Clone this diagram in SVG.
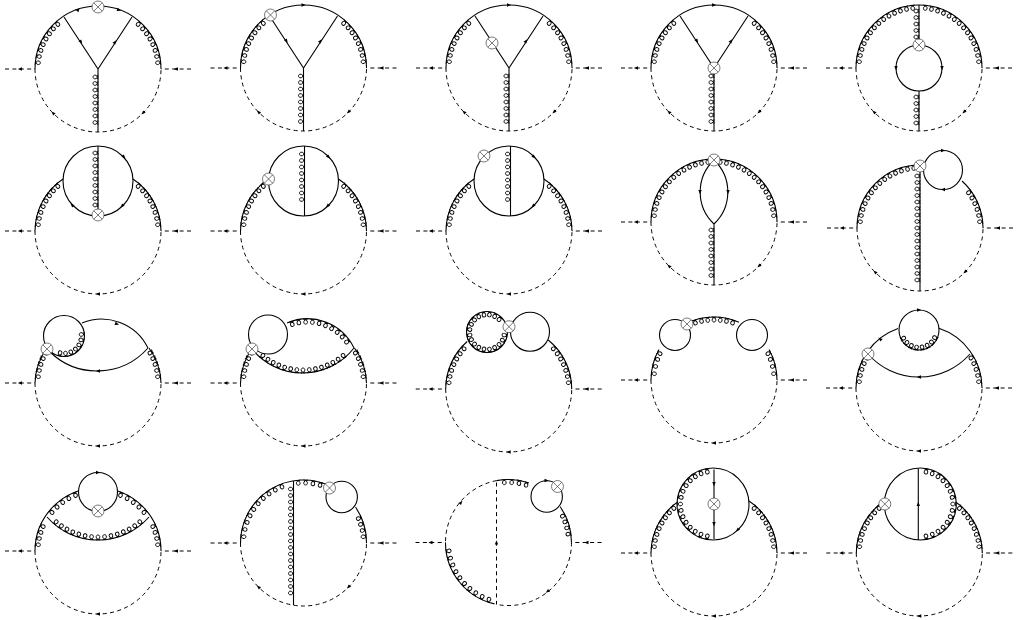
<svg xmlns="http://www.w3.org/2000/svg" width="1016" height="620" viewBox="0 0 1016 620">
<style>
.s{fill:none;stroke:#000;stroke-width:1.1}
.d{fill:none;stroke:#000;stroke-width:1;stroke-dasharray:4 3.4}
.l{fill:none;stroke:#000;stroke-width:.95}
.x{fill:#fff;stroke:#444;stroke-width:.7}
</style>
<defs>
<path id="c" class="l" d="M-2.200 0C0 0 2.200 1.400 1.800 3.500C1.400 5.500-1.400 5.500-1.800 3.500C-2.200 1.400 0 0 2.200 0"/>
<use id="c63" href="#c" y="-63"/>
<use id="c20" href="#c" y="-20.3"/>
<use id="c36" href="#c" y="-35.5"/>
<use id="c65" href="#c" y="-65.3"/>
<use id="c68" href="#c" y="-68"/>
<use id="c51" href="#c" y="-51.5"/>
<use id="v" href="#c" transform="rotate(90)"/>
<g id="V4"><use href="#v"/><use href="#v" y="6.5"/><use href="#v" y="13"/><use href="#v" y="19.5"/></g>
<g id="La"><use href="#c63" transform="rotate(-84)"/><use href="#c63" transform="rotate(-78)"/><use href="#c63" transform="rotate(-72)"/><use href="#c63" transform="rotate(-66)"/><use href="#c63" transform="rotate(-60)"/></g>
<g id="Lb"><use href="#c63" transform="rotate(-54)"/><use href="#c63" transform="rotate(-48)"/><use href="#c63" transform="rotate(-42)"/></g>
<g id="Lc"><use href="#c63" transform="rotate(-36)"/><use href="#c63" transform="rotate(-30)"/><use href="#c63" transform="rotate(-24)"/><use href="#c63" transform="rotate(-18)"/><use href="#c63" transform="rotate(-12)"/><use href="#c63" transform="rotate(-6)"/></g>
<g id="Ra"><use href="#c63" transform="rotate(84)"/><use href="#c63" transform="rotate(78)"/><use href="#c63" transform="rotate(72)"/><use href="#c63" transform="rotate(66)"/><use href="#c63" transform="rotate(60)"/></g>
<g id="Rb"><use href="#c63" transform="rotate(54)"/><use href="#c63" transform="rotate(48)"/><use href="#c63" transform="rotate(42)"/></g>
<g id="Rc"><use href="#c63" transform="rotate(36)"/><use href="#c63" transform="rotate(30)"/><use href="#c63" transform="rotate(24)"/><use href="#c63" transform="rotate(18)"/><use href="#c63" transform="rotate(12)"/><use href="#c63" transform="rotate(6)"/></g>
<path id="a" d="M2.200 0L-2-1.700V1.700Z"/>
<g id="x"><circle class="x" r="6"/><path class="x" d="M-4.2-4.2L4.2 4.2M-4.2 4.2L4.2-4.2"/></g>
<g id="ext"><path class="d" d="M-93 0H-63M93 0H63"/><use href="#a" transform="translate(-78 0) rotate(180)"/><use href="#a" transform="translate(78 0) rotate(180)"/></g>
<path id="low" class="d" d="M-63 0A63 63 0 0 0 63 0"/>
<g id="bot"><use href="#ext"/><use href="#low"/><use href="#a" transform="translate(0 63) rotate(180)"/></g>
<g id="bot2"><use href="#ext"/><use href="#low"/><use href="#a" transform="translate(-45 44) rotate(225)"/><use href="#a" transform="translate(45 44) rotate(135)"/></g>
<path id="top" class="s" d="M-63 0A63 63 0 0 1 63 0"/>
<g id="L8"><use href="#La"/><use href="#Lb"/></g>
<g id="R8"><use href="#Ra"/><use href="#Rb"/></g>
<g id="Y"><use href="#bot2"/><use href="#top"/><use href="#L8"/><use href="#R8"/><path class="s" d="M-34-52L0 0L34-52M0 0V63"/><use href="#V4" y="8"/><use href="#V4" y="34"/><use href="#a" transform="translate(17 -27) rotate(-57)"/><use href="#a" transform="translate(-17 -27) rotate(57)"/></g>
<path id="sides" class="s" d="M-63 0A63 63 0 0 1-35-52M63 0A63 63 0 0 0 35-52"/>
<g id="ring"><use href="#bot"/><use href="#sides"/><use href="#L8"/><use href="#R8"/><circle class="s" cy="-50" r="35"/></g>
</defs>

<g id="d1" transform="translate(98 69)"><use href="#Y"/><use href="#a" transform="translate(-21 -59) rotate(197)"/><use href="#a" transform="translate(21 -59) rotate(20)"/><use href="#x" y="-62"/></g>
<g id="d2" transform="translate(303.500 68)"><use href="#Y"/><use href="#a" transform="translate(0 -63)"/><use href="#x" x="-33" y="-53"/></g>
<g id="d3" transform="translate(509 68)"><use href="#Y"/><use href="#a" transform="translate(0 -63)"/><use href="#x" x="-17" y="-25"/></g>
<g id="d4" transform="translate(714 68)"><use href="#Y"/><use href="#a" transform="translate(0 -63)"/><use href="#x"/></g>
<g id="d5" transform="translate(919 68)"><use href="#bot2"/><use href="#top"/><use href="#L8"/><use href="#R8"/><use href="#Lc"/><use href="#Rc"/><path class="s" d="M0-63V-23M0 23V63"/><circle class="s" r="23"/><use href="#V4" y="-57"/><use href="#v" y="-31"/><use href="#V4" y="29"/><use href="#v" y="55"/><use href="#a" transform="translate(-23 0) rotate(90)"/><use href="#a" transform="translate(23 0) rotate(90)"/><use href="#x" y="-23"/></g>

<g id="d6" transform="translate(98 231)"><use href="#ring"/><path class="s" d="M0-85V-16"/><use href="#V4" y="-78"/><use href="#V4" y="-52"/><use href="#v" y="-26"/><use href="#a" transform="translate(26 -74) rotate(45)"/><use href="#a" transform="translate(-26 -26) rotate(225)"/><use href="#a" transform="translate(24 -25) rotate(135)"/><use href="#x" y="-16"/></g>
<g id="d7" transform="translate(303.500 231)"><use href="#ring"/><path class="s" d="M1-85V-15"/><use href="#V4" x="1" y="-77"/><use href="#V4" x="1" y="-51"/><use href="#a" transform="translate(25 -74) rotate(45)"/><use href="#a" transform="translate(24 -25) rotate(135)"/><use href="#x" x="-35" y="-52"/></g>
<g id="d8" transform="translate(509 231)"><use href="#ring"/><path class="s" d="M1.500-85V-15"/><use href="#V4" x="1.500" y="-77"/><use href="#V4" x="1.500" y="-51"/><use href="#a" transform="translate(25 -74) rotate(45)"/><use href="#a" transform="translate(24 -25) rotate(135)"/><use href="#x" x="-25" y="-75"/></g>
<g id="d9" transform="translate(714 222)"><use href="#bot2"/><use href="#top"/><use href="#L8"/><use href="#R8"/><use href="#Lc"/><use href="#Rc"/><path class="s" d="M0-62A44 44 0 0 0 0 2A44 44 0 0 0 0-62M0 2V63"/><use href="#V4" y="8"/><use href="#V4" y="34"/><use href="#a" transform="translate(14 -30) rotate(90)"/><use href="#a" transform="translate(-14 -30) rotate(90)"/><use href="#x" y="-62"/></g>
<g id="d10" transform="translate(920 228)"><use href="#bot2"/><path class="s" d="M-63 0A63 63 0 0 1 0-63M63 0A63 63 0 0 0 42-47M0-60V63"/><use href="#L8"/><use href="#Lc"/><use href="#Ra"/><use href="#c63" transform="rotate(54)"/><use href="#V4" y="-52"/><use href="#V4" y="-26"/><use href="#V4" y="0"/><use href="#V4" y="26"/><use href="#v" y="52"/><circle class="s" cx="23" cy="-58" r="19.500"/><use href="#a" transform="translate(23 -77.500)"/><use href="#a" transform="translate(23 -38.500) rotate(180)"/><use href="#x" y="-62"/></g>

<g id="d11" transform="translate(98 383)"><use href="#bot"/><path class="s" d="M-63 0A63 63 0 0 1-51-35M63 0A63 63 0 0 0 51-35M-16-60A51.500 51.500 0 0 1 50-35M-48-31A68 68 0 0 0 50-35"/><circle class="s" cx="-34" cy="-47" r="20.500"/><g transform="translate(-34 -47)"><use href="#c20" transform="rotate(85)"/><use href="#c20" transform="rotate(103)"/><use href="#c20" transform="rotate(121)"/><use href="#c20" transform="rotate(139)"/><use href="#c20" transform="rotate(157)"/><use href="#c20" transform="rotate(175)"/><use href="#c20" transform="rotate(193)"/></g><use href="#La"/><use href="#Ra"/><use href="#a" transform="translate(19 -59) rotate(20)"/><use href="#a" transform="translate(0 -12) rotate(180)"/><use href="#x" x="-51" y="-34"/></g>
<g id="d12" transform="translate(303.500 383)"><use href="#bot"/><path class="s" d="M-63 0A63 63 0 0 1-51-35M63 0A63 63 0 0 0 51-35M-16.500-60A51.500 51.500 0 0 1 50.500-35M-51.500-34A65.300 65.300 0 0 0 50.500-35"/><circle class="s" cx="-35.500" cy="-48.500" r="19.500"/><g transform="translate(3.800 -12.400)"><use href="#c51" transform="rotate(-18)"/><use href="#c51" transform="rotate(-10)"/><use href="#c51" transform="rotate(-2)"/><use href="#c51" transform="rotate(6)"/><use href="#c51" transform="rotate(14)"/><use href="#c51" transform="rotate(22)"/><use href="#c51" transform="rotate(30)"/><use href="#c51" transform="rotate(38)"/><use href="#c51" transform="rotate(46)"/><use href="#c51" transform="rotate(54)"/></g><g transform="translate(-.5 -75.300)"><use href="#c65" transform="rotate(140)"/><use href="#c65" transform="rotate(145.700)"/><use href="#c65" transform="rotate(151.400)"/><use href="#c65" transform="rotate(157.100)"/><use href="#c65" transform="rotate(162.800)"/><use href="#c65" transform="rotate(168.500)"/><use href="#c65" transform="rotate(174.200)"/><use href="#c65" transform="rotate(180)"/><use href="#c65" transform="rotate(185.700)"/><use href="#c65" transform="rotate(191.400)"/><use href="#c65" transform="rotate(197.100)"/><use href="#c65" transform="rotate(202.800)"/><use href="#c65" transform="rotate(208.500)"/><use href="#c65" transform="rotate(214.200)"/><use href="#c65" transform="rotate(220)"/></g><use href="#La"/><use href="#Ra"/><use href="#x" x="-51.500" y="-34"/></g>
<g id="d13" transform="translate(508.700 389)"><use href="#bot"/><path class="s" d="M-63 0A63 63 0 0 1-41.500-47.500M63 0A63 63 0 0 0 39.500-49"/><use href="#La"/><use href="#c63" transform="rotate(-54)"/><use href="#c63" transform="rotate(-48)"/><use href="#Ra"/><use href="#c63" transform="rotate(54)"/><use href="#c63" transform="rotate(48)"/><circle class="s" cx="21.300" cy="-57.300" r="19.500"/><g transform="translate(-21.700 -57)"><circle class="s" r="20.500"/><use href="#c20" transform="rotate(-100)"/><use href="#c20" transform="rotate(-82)"/><use href="#c20" transform="rotate(-64)"/><use href="#c20" transform="rotate(-46)"/><use href="#c20" transform="rotate(-28)"/><use href="#c20" transform="rotate(-10)"/><use href="#c20" transform="rotate(8)"/><use href="#c20" transform="rotate(26)"/><use href="#c20" transform="rotate(44)"/><use href="#c20" transform="rotate(100)"/><use href="#c20" transform="rotate(118)"/><use href="#c20" transform="rotate(136)"/><use href="#c20" transform="rotate(154)"/><use href="#c20" transform="rotate(172)"/><use href="#c20" transform="rotate(190)"/><use href="#c20" transform="rotate(208)"/><use href="#c20" transform="rotate(226)"/><use href="#c20" transform="rotate(244)"/></g><use href="#x" x=".3" y="-62.300"/></g>
<g id="d14" transform="translate(714 380)"><use href="#bot"/><path class="s" d="M-63 0A63 63 0 0 1-55-30.500M63 0A63 63 0 0 0 55-30.500M-27-57A63 63 0 0 1 25-57.800"/><circle class="s" cx="-39" cy="-45" r="15.500"/><circle class="s" cx="38" cy="-45" r="15.500"/><use href="#c63" transform="rotate(-84)"/><use href="#c63" transform="rotate(-77)"/><use href="#c63" transform="rotate(-70)"/><use href="#c63" transform="rotate(-64)"/><use href="#c63" transform="rotate(84)"/><use href="#c63" transform="rotate(77)"/><use href="#c63" transform="rotate(70)"/><use href="#c63" transform="rotate(64)"/><use href="#c63" transform="rotate(-18)"/><use href="#c63" transform="rotate(-12)"/><use href="#c63" transform="rotate(-6)"/><use href="#c63" transform="rotate(0)"/><use href="#c63" transform="rotate(6)"/><use href="#c63" transform="rotate(12)"/><use href="#c63" transform="rotate(18)"/><use href="#x" x="-27" y="-56"/></g>
<g id="d15" transform="translate(919 388)"><use href="#bot"/><path class="s" d="M-63 0A63 63 0 0 1-21-59.400M63 0A63 63 0 0 0 20-59.700M-51-34A68 68 0 0 0 51-34"/><g transform="translate(0 -58)"><circle class="s" r="20"/><use href="#a" transform="translate(0 -20)"/><use href="#c20" transform="rotate(116)"/><use href="#c20" transform="rotate(134)"/><use href="#c20" transform="rotate(152)"/><use href="#c20" transform="rotate(170)"/><use href="#c20" transform="rotate(188)"/><use href="#c20" transform="rotate(206)"/><use href="#c20" transform="rotate(224)"/><use href="#c20" transform="rotate(242)"/></g><use href="#La"/><use href="#Ra"/><use href="#a" transform="translate(-39 -49) rotate(220)"/><use href="#a" transform="translate(0 -11) rotate(180)"/><use href="#x" x="-51" y="-34"/></g>

<g id="d16" transform="translate(98 551)"><use href="#bot"/><use href="#top"/><circle class="s" cy="-59" r="19.500" style="fill:#fff"/><path class="s" d="M-51-34A68 68 0 0 0 51-34"/><use href="#c63" transform="rotate(-84)"/><use href="#c63" transform="rotate(-78)"/><use href="#c63" transform="rotate(-72)"/><use href="#c63" transform="rotate(-66)"/><use href="#c63" transform="rotate(84)"/><use href="#c63" transform="rotate(78)"/><use href="#c63" transform="rotate(72)"/><use href="#c63" transform="rotate(66)"/><use href="#c63" transform="rotate(-50)"/><use href="#c63" transform="rotate(-43)"/><use href="#c63" transform="rotate(-36)"/><use href="#c63" transform="rotate(-29)"/><use href="#c63" transform="rotate(-22)"/><use href="#c63" transform="rotate(50)"/><use href="#c63" transform="rotate(43)"/><use href="#c63" transform="rotate(36)"/><use href="#c63" transform="rotate(29)"/><use href="#c63" transform="rotate(22)"/><g transform="translate(0 -79)"><use href="#c68" transform="rotate(140)"/><use href="#c68" transform="rotate(145.700)"/><use href="#c68" transform="rotate(151.400)"/><use href="#c68" transform="rotate(157.100)"/><use href="#c68" transform="rotate(162.800)"/><use href="#c68" transform="rotate(168.500)"/><use href="#c68" transform="rotate(174.200)"/><use href="#c68" transform="rotate(180)"/><use href="#c68" transform="rotate(185.700)"/><use href="#c68" transform="rotate(191.400)"/><use href="#c68" transform="rotate(197.100)"/><use href="#c68" transform="rotate(202.800)"/><use href="#c68" transform="rotate(208.500)"/><use href="#c68" transform="rotate(214.200)"/><use href="#c68" transform="rotate(220)"/></g><use href="#a" transform="translate(0 -78.500)"/><use href="#x" y="-40"/></g>
<g id="d17" transform="translate(303.500 543)"><use href="#bot2"/><path class="s" d="M-63 0A63 63 0 0 1 26-57.400M63 0A63 63 0 0 0 52-36M-10-62V62"/><circle class="s" cx="38.200" cy="-46" r="15.700" style="fill:#fff"/><use href="#c63" transform="rotate(-84)"/><use href="#c63" transform="rotate(-77)"/><use href="#c63" transform="rotate(-70)"/><use href="#c63" transform="rotate(-63)"/><use href="#c63" transform="rotate(-56)"/><use href="#c63" transform="rotate(-49)"/><use href="#c63" transform="rotate(-42)"/><use href="#c63" transform="rotate(-35)"/><use href="#c63" transform="rotate(-28)"/><use href="#c63" transform="rotate(-21)"/><use href="#c63" transform="rotate(-5)"/><use href="#c63" transform="rotate(2)"/><use href="#c63" transform="rotate(9)"/><use href="#c63" transform="rotate(16)"/><use href="#c63" transform="rotate(84)"/><use href="#c63" transform="rotate(78)"/><use href="#c63" transform="rotate(72)"/><use href="#c63" transform="rotate(66)"/><g transform="translate(-10 0)"><use href="#V4" y="-54"/><use href="#V4" y="-28"/><use href="#V4" y="-2"/><use href="#V4" y="24"/><use href="#v" y="50"/></g><use href="#x" x="26" y="-55"/></g>
<g id="d18" transform="translate(508.500 542.500)"><use href="#ext"/><path class="d" d="M-12-61.900A63 63 0 0 0-63 0M63 0A63 63 0 0 1-12 61.900M-12-60V62"/><path class="s" d="M-12-61.900A63 63 0 0 1 20-59.700M63 0A63 63 0 0 0 51.500-36M-63 0A63 63 0 0 0-14 61.400"/><circle class="s" cx="38.200" cy="-46" r="15.700" style="fill:#fff"/><use href="#c63" transform="rotate(-4)"/><use href="#c63" transform="rotate(3)"/><use href="#c63" transform="rotate(10)"/><use href="#c63" transform="rotate(17)"/><use href="#c63" transform="rotate(64)"/><use href="#c63" transform="rotate(70)"/><use href="#c63" transform="rotate(76)"/><use href="#c63" transform="rotate(82)"/><use href="#c63" transform="rotate(262)"/><use href="#c63" transform="rotate(255)"/><use href="#c63" transform="rotate(248)"/><use href="#c63" transform="rotate(241)"/><use href="#c63" transform="rotate(234)"/><use href="#c63" transform="rotate(227)"/><use href="#c63" transform="rotate(220)"/><use href="#c63" transform="rotate(213)"/><use href="#c63" transform="rotate(206)"/><use href="#c63" transform="rotate(199)"/><use href="#a" transform="translate(-12 0) rotate(-90)"/><use href="#a" transform="translate(-47.500 -40) rotate(-50)"/><use href="#a" transform="translate(39 49) rotate(142)"/><use href="#a" transform="translate(38 -62)"/><use href="#x" x="49" y="-56"/></g>
<g id="d19" transform="translate(714 553)"><use href="#bot"/><use href="#sides"/><use href="#L8"/><use href="#R8"/><g transform="translate(-1 -49)"><circle class="s" r="36" style="fill:#fff"/><path class="s" d="M1-34.500V35"/><use href="#c36" transform="rotate(-10)"/><use href="#c36" transform="rotate(-21.400)"/><use href="#c36" transform="rotate(-32.800)"/><use href="#c36" transform="rotate(-44.200)"/><use href="#c36" transform="rotate(-55.600)"/><use href="#c36" transform="rotate(-67)"/><use href="#c36" transform="rotate(-78.400)"/><use href="#c36" transform="rotate(-90)"/><use href="#c36" transform="rotate(-101.400)"/><use href="#c36" transform="rotate(-112.800)"/><use href="#c36" transform="rotate(-124.200)"/><use href="#c36" transform="rotate(-135.600)"/><use href="#c36" transform="rotate(-147)"/><use href="#c36" transform="rotate(-158.400)"/><use href="#c36" transform="rotate(-170)"/><use href="#a" transform="translate(1 -20) rotate(90)"/><use href="#a" transform="translate(1 20) rotate(90)"/><use href="#a" transform="translate(24.500 26) rotate(135)"/><use href="#x" x="1"/></g></g>
<g id="d20" transform="translate(919.300 553)"><use href="#bot"/><use href="#sides"/><use href="#L8"/><use href="#R8"/><g transform="translate(1 -49)"><circle class="s" r="36" style="fill:#fff"/><path class="s" d="M-2-35.500V36"/><use href="#c36" transform="rotate(10)"/><use href="#c36" transform="rotate(21.400)"/><use href="#c36" transform="rotate(32.800)"/><use href="#c36" transform="rotate(44.200)"/><use href="#c36" transform="rotate(55.600)"/><use href="#c36" transform="rotate(67)"/><use href="#c36" transform="rotate(78.400)"/><use href="#c36" transform="rotate(90)"/><use href="#c36" transform="rotate(101.400)"/><use href="#c36" transform="rotate(112.800)"/><use href="#c36" transform="rotate(124.200)"/><use href="#c36" transform="rotate(135.600)"/><use href="#c36" transform="rotate(147)"/><use href="#c36" transform="rotate(158.400)"/><use href="#c36" transform="rotate(170)"/><use href="#a" transform="translate(-2 0) rotate(-90)"/><use href="#x" x="-35.500"/></g></g>
</svg>
